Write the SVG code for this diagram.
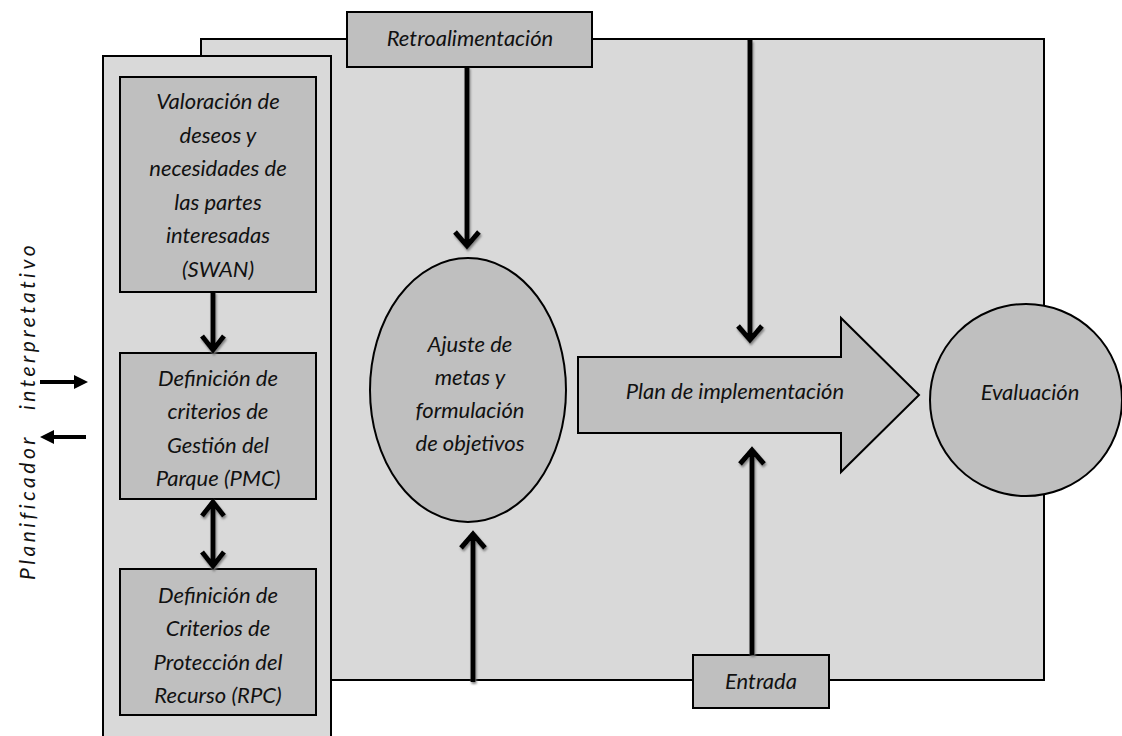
<svg xmlns="http://www.w3.org/2000/svg" width="1122" height="736" viewBox="0 0 1122 736">
<style>
  .bg{fill:#d9d9d9;stroke:#000;stroke-width:2}
  .box{fill:#bfbfbf;stroke:#000;stroke-width:2}
  .t{font-family:Lato,"Liberation Sans",sans-serif;font-style:italic;font-size:22px;fill:#111;text-anchor:middle}
  .side{font-family:Lato,"Liberation Sans",sans-serif;font-style:italic;font-size:21px;fill:#111;letter-spacing:3.5px}
  .ar{fill:none;stroke:#000;stroke-width:5;stroke-linejoin:miter;filter:url(#sh)}
  .thin{fill:none;stroke:#000;stroke-width:4}
</style>
<defs>
  <filter id="sh" x="-50%" y="-50%" width="200%" height="200%">
    <feDropShadow dx="1" dy="2" stdDeviation="0.8" flood-color="#777" flood-opacity="0.9"/>
  </filter>
</defs>
<rect width="1122" height="736" fill="#fff"/>

<g id="main-panel"><rect class="bg" x="201" y="39" width="843" height="641"/></g>
<g id="left-panel"><rect class="bg" x="103" y="56" width="228" height="690"/></g>

<g id="swan">
  <rect class="box" x="120" y="77" width="196" height="215"/>
  <text class="t"><tspan x="218" y="109">Valoración de</tspan><tspan x="218" y="143">deseos y</tspan><tspan x="218" y="176">necesidades de</tspan><tspan x="218" y="210">las partes</tspan><tspan x="218" y="243">interesadas</tspan><tspan x="218" y="277">(SWAN)</tspan></text>
</g>
<g id="pmc">
  <rect class="box" x="120" y="353" width="196" height="146"/>
  <text class="t"><tspan x="218" y="386">Definición de</tspan><tspan x="218" y="419">criterios de</tspan><tspan x="218" y="453">Gestión del</tspan><tspan x="218" y="486">Parque (PMC)</tspan></text>
</g>
<g id="rpc">
  <rect class="box" x="120" y="569" width="196" height="146"/>
  <text class="t"><tspan x="218" y="603">Definición de</tspan><tspan x="218" y="636">Criterios de</tspan><tspan x="218" y="670">Protección del</tspan><tspan x="218" y="703">Recurso (RPC)</tspan></text>
</g>
<g id="retro">
  <rect class="box" x="347" y="12" width="245" height="55"/>
  <text class="t" x="470" y="46">Retroalimentación</text>
</g>
<g id="entrada">
  <rect class="box" x="693" y="655" width="136" height="53"/>
  <text class="t" x="761" y="689">Entrada</text>
</g>
<g id="ajuste">
  <ellipse class="box" cx="468" cy="390" rx="98" ry="132"/>
  <text class="t"><tspan x="470" y="352">Ajuste de</tspan><tspan x="470" y="385">metas y</tspan><tspan x="470" y="418">formulación</tspan><tspan x="470" y="451">de objetivos</tspan></text>
</g>
<g id="plan">
  <path class="box" d="M578,357 H841 V318 L919,395 L841,472 V433 H578 Z"/>
  <text class="t" x="735" y="399">Plan de implementación</text>
</g>
<g id="evaluacion">
  <circle class="box" cx="1026" cy="400" r="96"/>
  <text class="t" x="1030" y="400">Evaluación</text>
</g>
<g id="planificador">
  <text class="side" transform="translate(35,580) rotate(-90)"><tspan x="0" y="0">Planificador</tspan><tspan x="170" y="0">interpretativo</tspan></text>
</g>

<g id="connectors">
  <path class="ar" d="M213,292 V350 M202,336 L213,350 L224,336"/>
  <path class="ar" d="M213,502 V566 M202,516 L213,502 L224,516 M202,552 L213,566 L224,552"/>
  <path class="ar" d="M467,67 V246 M455,232 L467,246 L479,232"/>
  <path class="ar" d="M750,40 V340 M738,326 L750,340 L762,326"/>
  <path class="ar" d="M473,682 V534 M461,548 L473,534 L485,548"/>
  <path class="ar" d="M752,655 V450 M740,464 L752,450 L764,464"/>
  <path class="thin" d="M40,382 H76"/>
  <polygon points="74,375 88,382 74,389" fill="#000"/>
  <path class="thin" d="M86,437 H52"/>
  <polygon points="54,430 40,437 54,444" fill="#000"/>
</g>
</svg>
